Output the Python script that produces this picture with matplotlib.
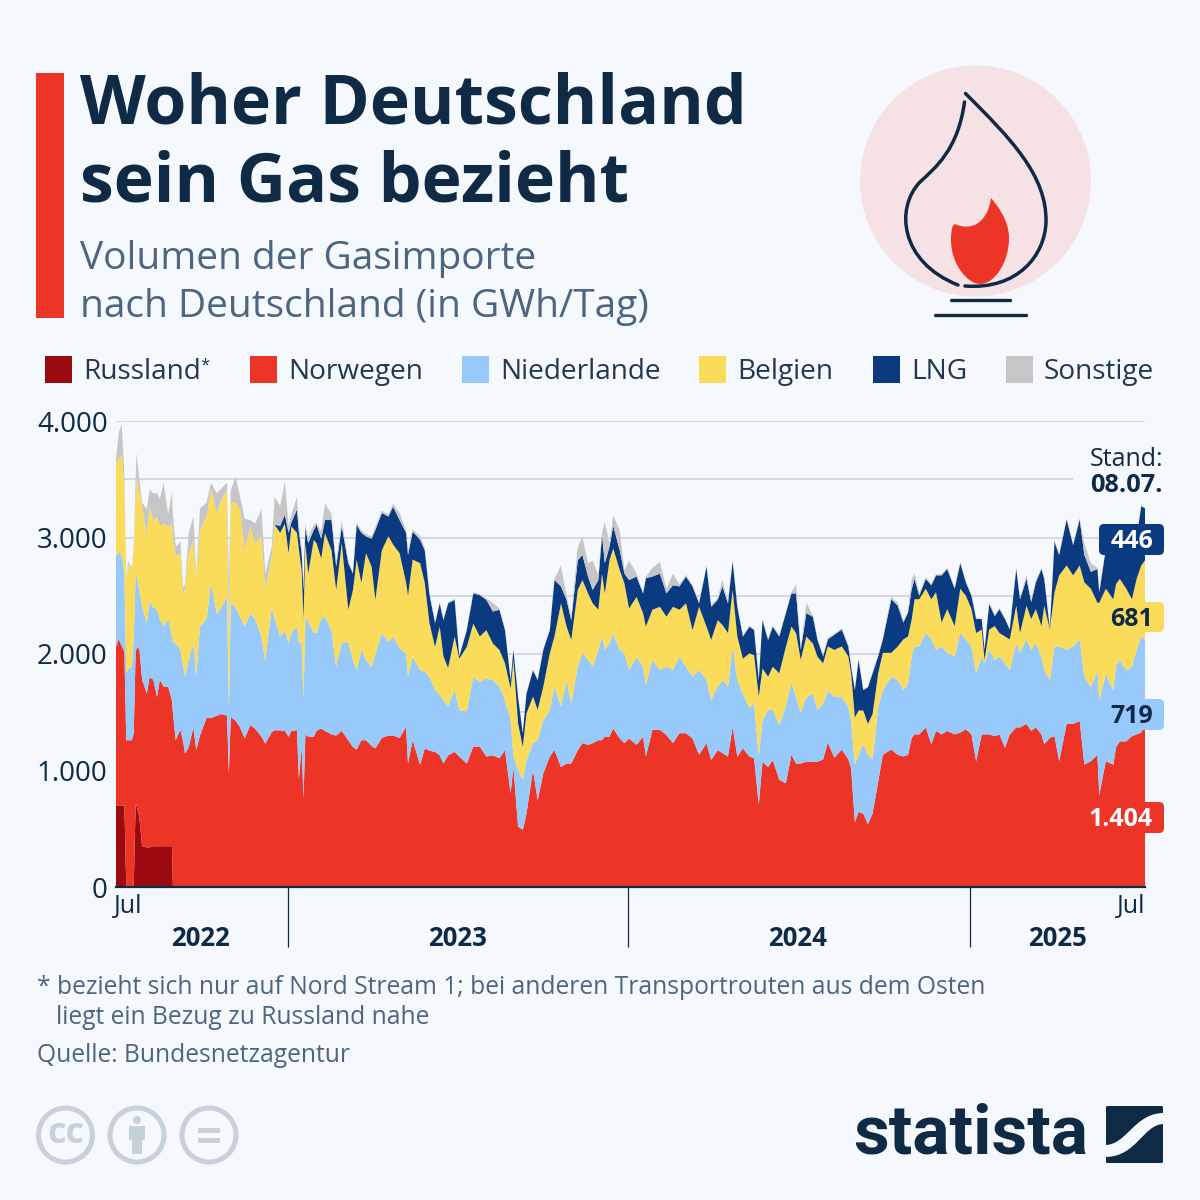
import numpy as np
import matplotlib
matplotlib.use("Agg")
import matplotlib.pyplot as plt
from matplotlib.patches import Rectangle, Circle, FancyBboxPatch, PathPatch
from matplotlib.path import Path

# Tage seit dem 01.07.2022
tage = [
    0, 3, 6, 9, 11, 13, 17, 19, 21, 22,
    25, 28, 33, 36, 40, 44, 47, 51, 56, 60,
    61, 64, 69, 72, 74, 78, 83, 86, 90, 97,
    102, 108, 113, 119, 121, 123, 128, 133, 138, 144,
    149, 156, 160, 167, 170, 176, 181, 185, 188, 194,
    196, 199, 201, 203, 206, 212, 215, 220, 224, 231,
    236, 242, 249, 254, 258, 263, 268, 274, 278, 285,
    292, 297, 304, 311, 313, 318, 326, 331, 336, 342,
    347, 351, 356, 363, 368, 376, 383, 390, 397, 404,
    411, 417, 423, 426, 431, 436, 440, 447, 452, 458,
    465, 470, 477, 483, 488, 495, 500, 506, 511, 517,
    521, 524, 529, 533, 540, 545, 550, 558, 565, 568,
    575, 583, 590, 597, 604, 611, 618, 625, 633, 638,
    645, 650, 656, 661, 666, 672, 679, 684, 689, 693,
    699, 704, 711, 718, 724, 729, 734, 740, 747, 752,
    758, 763, 770, 778, 785, 788, 792, 796, 801, 806,
    811, 817, 822, 831, 838, 844, 849, 853, 856, 861,
    868, 874, 879, 885, 891, 899, 905, 911, 917, 922,
    928, 931, 936, 942, 947, 953, 958, 965, 969, 976,
    981, 986, 992, 995, 1001, 1006, 1011, 1019, 1026, 1033,
    1038, 1045, 1052, 1054, 1061, 1069, 1072, 1076, 1083, 1089,
    1094, 1099, 1103,
]

# Obergrenzen der gestapelten Flaechen (GWh/Tag)
russland = [
    700, 700, 700, 700, 0, 0, 0, 0, 700, 700,
    600, 350, 340, 340, 350, 350, 350, 350, 350, 350,
] + [0] * (len(tage) - 20)
bis_norwegen = [
    2060, 2130, 2070, 2020, 1260, 1260, 1260, 1320, 2000, 2050,
    2050, 1780, 1660, 1800, 1780, 1630, 1780, 1720, 1720, 1600,
    1500, 1260, 1350, 1250, 1145, 1200, 1370, 1175, 1300, 1450,
    1450, 1470, 1485, 1470, 975, 1460, 1430, 1370, 1275, 1390,
    1360, 1290, 1230, 1330, 1345, 1345, 1340, 1290, 1340, 1345,
    930, 1200, 760, 1310, 1290, 1290, 1340, 1360, 1340, 1310,
    1300, 1340, 1260, 1200, 1180, 1260, 1260, 1210, 1190, 1280,
    1300, 1300, 1280, 1375, 1060, 1260, 1050, 1190, 1170, 1160,
    1130, 1060, 1130, 1160, 1120, 1060, 1205, 1205, 1120, 1130,
    1105, 1175, 805, 1030, 520, 490, 630, 1005, 745, 975,
    1120, 1175, 1030, 1060, 1060, 1175, 1235, 1220, 1235, 1260,
    1260, 1290, 1290, 1360, 1275, 1235, 1275, 1220, 1290, 1120,
    1350, 1350, 1305, 1235, 1320, 1320, 1275, 1135, 1235, 1090,
    1175, 1150, 1120, 1375, 1120, 1190, 1120, 1105, 705, 1075,
    1030, 1090, 920, 890, 1135, 1060, 1060, 1075, 1075, 1075,
    1095, 1240, 1110, 1180, 1095, 1020, 555, 645, 630, 540,
    630, 905, 1135, 1180, 1135, 1120, 1135, 1280, 1310, 1310,
    1370, 1225, 1340, 1310, 1340, 1310, 1325, 1355, 1310, 1080,
    1310, 1310, 1310, 1295, 1310, 1195, 1310, 1370, 1370, 1400,
    1340, 1370, 1310, 1225, 1280, 1295, 1080, 1400, 1400, 1425,
    1050, 1080, 1135, 790, 1080, 1050, 1200, 1250, 1250, 1295,
    1310, 1325, 1404,
]
bis_niederlande = [
    2835, 2880, 2850, 2700, 1835, 1870, 1890, 2150, 2650, 2680,
    2550, 2405, 2265, 2450, 2400, 2380, 2300, 2235, 2300, 2150,
    2100, 2090, 2035, 1900, 1805, 1950, 2090, 1805, 2235, 2300,
    2610, 2350, 2400, 2490, 1530, 2430, 2405, 2320, 2235, 2350,
    2300, 2150, 1935, 2400, 2300, 2150, 2200, 2090, 2180, 2235,
    2100, 2090, 1600, 2320, 2280, 2180, 2180, 2300, 2320, 2200,
    1890, 2100, 2100, 1950, 1860, 2035, 1950, 1890, 2000, 2180,
    2100, 2150, 2050, 2005, 1805, 1975, 1860, 1850, 1800, 1690,
    1650, 1605, 1550, 1690, 1520, 1505, 1805, 1760, 1790, 1775,
    1720, 1605, 1430, 1120, 1005, 920, 1090, 1235, 1260, 1430,
    1520, 1720, 1550, 1775, 1575, 1890, 2005, 1950, 1890, 2035,
    2150, 2035, 2090, 2175, 2035, 2005, 1865, 1975, 1890, 1735,
    1950, 1865, 1890, 1865, 1975, 1890, 1805, 1865, 1775, 1605,
    1720, 1775, 1720, 2060, 1775, 1660, 1535, 1575, 1120, 1430,
    1520, 1520, 1390, 1550, 1750, 1630, 1490, 1630, 1660, 1520,
    1570, 1690, 1630, 1630, 1545, 1430, 1050, 1135, 1225, 1135,
    1095, 1545, 1690, 1805, 1775, 1690, 1745, 1980, 2065, 2065,
    2180, 2125, 2035, 2065, 2010, 1980, 2180, 2125, 2065, 1835,
    1980, 1920, 2035, 1950, 1980, 1920, 1860, 2095, 2010, 2125,
    2035, 2095, 1980, 1860, 1775, 2065, 2065, 2035, 2065, 2125,
    1805, 1715, 1860, 1600, 1830, 1690, 1900, 1950, 1860, 1890,
    2035, 2150, 2123,
]
bis_belgien = [
    3640, 3680, 3700, 3450, 2640, 2780, 2720, 2890, 3350, 3510,
    3400, 3270, 3010, 3270, 3150, 3180, 3100, 3120, 3090, 3120,
    3000, 2840, 2860, 2500, 2560, 2860, 2980, 2640, 3065, 3180,
    3410, 3210, 3320, 3410, 2100, 3300, 3295, 3240, 2890, 3095,
    2950, 3010, 2550, 2840, 3110, 3040, 3120, 2865, 3095, 3040,
    2900, 2720, 2300, 2950, 2690, 2980, 2950, 2820, 3035, 2890,
    2550, 2950, 2380, 2550, 2810, 2610, 2865, 2750, 2465, 2890,
    3010, 2940, 2865, 2610, 2500, 2810, 2780, 2610, 2265, 2060,
    2235, 1980, 1880, 2150, 1960, 2060, 2260, 2150, 2205, 2090,
    2035, 1920, 1705, 1950, 1405, 1205, 1490, 1635, 1520, 1720,
    2005, 2150, 2435, 2235, 2120, 2550, 2635, 2520, 2435, 2380,
    2690, 2520, 2805, 2905, 2720, 2605, 2390, 2490, 2350, 2235,
    2380, 2405, 2320, 2405, 2380, 2435, 2205, 2405, 2235, 2120,
    2290, 2250, 2180, 2550, 2150, 1960, 2005, 1990, 1635, 1875,
    1805, 1890, 1835, 2060, 2235, 2180, 1950, 2150, 2090, 1975,
    1920, 2065, 2035, 2065, 1980, 1835, 1455, 1515, 1515, 1400,
    1485, 1835, 2010, 2010, 2065, 2125, 2150, 2300, 2470, 2470,
    2560, 2470, 2530, 2270, 2385, 2240, 2560, 2500, 2385, 2180,
    2210, 1950, 2210, 2240, 2180, 2150, 2125, 2415, 2180, 2415,
    2300, 2385, 2240, 2415, 2210, 2530, 2675, 2760, 2675, 2760,
    2615, 2560, 2440, 2440, 2560, 2470, 2600, 2645, 2560, 2470,
    2645, 2760, 2804,
]
bis_lng = [
    3640, 3680, 3700, 3450, 2640, 2780, 2720, 2890, 3350, 3510,
    3400, 3270, 3010, 3270, 3150, 3180, 3100, 3120, 3090, 3120,
    3000, 2840, 2860, 2500, 2560, 2860, 2980, 2640, 3065, 3180,
    3410, 3210, 3320, 3410, 2100, 3300, 3295, 3240, 2890, 3095,
    2950, 3010, 2550, 2840, 3110, 3100, 3195, 3040, 3130, 3240,
    3050, 2865, 2550, 3080, 2950, 3065, 3110, 2990, 3150, 3150,
    2750, 3095, 2780, 2690, 3110, 3040, 3010, 2990, 3065, 3210,
    3180, 3265, 3150, 3040, 2850, 3050, 2980, 2890, 2510, 2265,
    2435, 2290, 2435, 2465, 1980, 2205, 2520, 2505, 2465, 2365,
    2380, 2205, 1775, 2035, 1630, 1320, 1660, 1860, 1775, 2035,
    2205, 2635, 2580, 2465, 2290, 2805, 2850, 2665, 2550, 2635,
    3020, 2780, 2920, 3100, 2890, 2690, 2635, 2665, 2520, 2650,
    2665, 2690, 2520, 2590, 2580, 2665, 2580, 2435, 2750, 2405,
    2465, 2580, 2435, 2795, 2405, 2150, 2235, 2205, 1775, 2290,
    2120, 2235, 2150, 2350, 2520, 2520, 2035, 2350, 2320, 2120,
    1980, 2125, 2165, 2210, 2065, 1890, 1690, 1950, 1690, 1715,
    1835, 1980, 2125, 2470, 2415, 2270, 2355, 2560, 2645, 2500,
    2645, 2590, 2675, 2675, 2730, 2560, 2780, 2615, 2500, 2300,
    2300, 2035, 2430, 2325, 2385, 2300, 2210, 2730, 2470, 2645,
    2445, 2615, 2730, 2645, 2215, 2965, 2850, 3155, 2935, 3155,
    2850, 2705, 2730, 2530, 2900, 2900, 3100, 2900, 2900, 2950,
    3000, 3270, 3250,
]
bis_sonstige = [
    3670, 3900, 3980, 3550, 2660, 2800, 2740, 2920, 3500, 3725,
    3500, 3300, 3240, 3410, 3380, 3380, 3330, 3470, 3200, 3395,
    3200, 2920, 2965, 2570, 2600, 3040, 3180, 2680, 3250, 3300,
    3470, 3380, 3420, 3470, 2600, 3400, 3525, 3350, 3160, 3150,
    3120, 3240, 2690, 2920, 3350, 3270, 3480, 3100, 3200, 3350,
    3100, 2900, 2600, 3120, 3000, 3110, 3130, 3050, 3295, 3200,
    2780, 3150, 2800, 2700, 3130, 3060, 3030, 3010, 3090, 3230,
    3200, 3290, 3210, 3060, 2880, 3070, 3010, 2910, 2520, 2270,
    2445, 2300, 2445, 2475, 1990, 2215, 2530, 2515, 2475, 2440,
    2390, 2215, 1785, 2045, 1635, 1325, 1665, 1870, 1785, 2045,
    2215, 2645, 2760, 2500, 2320, 2920, 3005, 2780, 2800, 2680,
    3040, 3135, 2950, 3190, 3060, 2720, 2800, 2690, 2530, 2660,
    2740, 2790, 2560, 2690, 2600, 2680, 2590, 2450, 2760, 2420,
    2480, 2640, 2450, 2800, 2410, 2160, 2240, 2215, 1780, 2300,
    2130, 2245, 2160, 2360, 2530, 2600, 2045, 2440, 2330, 2125,
    1990, 2140, 2175, 2220, 2075, 1900, 1695, 1960, 1700, 1720,
    1845, 1990, 2135, 2490, 2440, 2290, 2370, 2640, 2690, 2520,
    2660, 2600, 2685, 2685, 2740, 2570, 2790, 2625, 2510, 2310,
    2305, 2040, 2440, 2335, 2395, 2310, 2215, 2745, 2480, 2680,
    2460, 2630, 2740, 2655, 2220, 2975, 2860, 3165, 2945, 3165,
    2950, 2780, 2740, 2540, 2905, 2910, 3110, 2910, 2910, 2955,
    3010, 3280, 3250,
]

namen = ["Russland", "Norwegen", "Niederlande", "Belgien", "LNG", "Sonstige"]
farben = ["#9b0a0e", "#ec3527", "#97c9fa", "#fbdc5a", "#0a3a7f", "#c6c6c6"]
legende_x = [45, 250, 462, 699, 873, 1006]
y_ticks = [0, 1000, 2000, 3000, 4000]
y_labels = ["0", "1.000", "2.000", "3.000", "4.000"]
jahre = ["2022", "2023", "2024", "2025"]
jahr_x = [200, 457, 797, 1057]
jahreswechsel = [184, 549, 915]
end_labels = ["446", "681", "719", "1.404"]

BG = "#f5f8fc"
NAVY = "#0f2a45"
GREY = "#4c6580"
LEG = "#22384f"
RED = "#ec3527"
ICON = "#c6d2da"

plt.rcParams["font.family"] = ["Open Sans", "DejaVu Sans"]

fig = plt.figure(figsize=(12, 12), dpi=100, facecolor=BG)

# chart itself, placed by pixels
ax = fig.add_axes([116 / 1200, (1200 - 887) / 1200, 1029 / 1200, 466 / 1200])
ax.set_facecolor("none")
ax.set_xlim(0, 1103)
ax.set_ylim(0, 4000)

tage_arr = np.array(tage)
kanten = np.array([np.zeros(len(tage)), russland, bis_norwegen, bis_niederlande,
                   bis_belgien, bis_lng, bis_sonstige], dtype=float)
werte = np.diff(kanten, axis=0)
ax.stackplot(tage_arr, werte, colors=farben, linewidth=0, zorder=2)

for g in [500, 1000, 1500, 2000, 2500, 3000, 4000]:
    ax.axhline(g, color="#d4dae3", lw=1.4, zorder=1)
ax.hlines(3500, 0, 1026, color="#d4dae3", lw=1.4, zorder=1)

for s in ["top", "left", "right"]:
    ax.spines[s].set_visible(False)
ax.spines["bottom"].set_color(NAVY)
ax.spines["bottom"].set_linewidth(1.6)
ax.spines["bottom"].set_zorder(5)
ax.set_yticks(y_ticks, y_labels)
ax.tick_params(axis="y", length=0, pad=6, labelsize=20, labelcolor=NAVY)
ax.set_xticks(jahreswechsel, [""] * 3)
ax.tick_params(axis="x", length=43, width=0.9, color=NAVY)

# overlay in pixel coordinates for everything around the chart
ov = fig.add_axes([0, 0, 1, 1], zorder=10)
ov.set_xlim(0, 1200)
ov.set_ylim(1200, 0)
ov.axis("off")

ov.add_patch(Rectangle((36, 73), 28, 245, color=RED, lw=0))
ov.text(80, 105, "Woher Deutschland", fontsize=49, fontweight="bold", color=NAVY, va="center")
ov.text(80, 184, "sein Gas bezieht", fontsize=49, fontweight="bold", color=NAVY, va="center")
ov.text(80, 259, "Volumen der Gasimporte", fontsize=28, color=GREY, va="center")
ov.text(80, 307, "nach Deutschland (in GWh/Tag)", fontsize=28, color=GREY, va="center")

# flame icon
ov.add_patch(Circle((975.5, 181), 115.5, color="#f6e1e4", lw=0))
außen = Path(
    [(965.5, 93.5), (1010, 138), (1047, 175), (1046, 222), (1045, 255), (1018, 290), (965, 286)],
    [Path.MOVETO, Path.CURVE4, Path.CURVE4, Path.CURVE4, Path.CURVE4, Path.CURVE4, Path.CURVE4],
)
innen = Path(
    [(964.5, 102), (958, 150), (935, 168), (920, 182), (895, 208), (900, 262), (958, 285)],
    [Path.MOVETO, Path.CURVE4, Path.CURVE4, Path.CURVE4, Path.CURVE4, Path.CURVE4, Path.CURVE4],
)
for p in [außen, innen]:
    ov.add_patch(PathPatch(p, fc="none", ec=NAVY, lw=2.5, capstyle="round"))
flamme = Path(
    [(991, 198), (989, 215), (978, 232), (957, 225), (953, 222), (951, 228), (951, 240), (951, 265),
     (968, 284), (980, 284), (995, 284), (1009, 262), (1009, 238), (1009, 220), (997, 205), (991, 198)],
    [Path.MOVETO] + [Path.CURVE4] * 15,
)
ov.add_patch(PathPatch(flamme, fc=RED, ec="none"))
ov.plot([951, 1010], [300, 300], color=NAVY, lw=2.4, solid_capstyle="round")
ov.plot([935, 1026], [315, 315], color=NAVY, lw=2.4, solid_capstyle="round")

# legend
for name, farbe, lx in zip(namen, farben, legende_x):
    ov.add_patch(Rectangle((lx, 356), 27, 27, color=farbe, lw=0))
    ov.text(lx + 38, 372, name, fontsize=20.2, color=LEG, va="center")
ov.text(200, 366, "*", fontsize=12, color=LEG, va="center")

# x labels
ov.text(128.5, 907, "Jul", fontsize=18, color=NAVY, ha="center", va="center")
ov.text(1131, 907, "Jul", fontsize=18, color=NAVY, ha="center", va="center")
for jahr, jx in zip(jahre, jahr_x):
    ov.text(jx, 939, jahr, fontsize=18.5, fontweight="bold", color=NAVY, ha="center", va="center")

# end labels
boxen = [(1099, 524, 65, 31, "#0a3a7f", "white"), (1099, 602, 65, 30, "#fbdc5a", NAVY),
         (1099, 699, 65, 31, "#97c9fa", NAVY), (1085, 802, 79, 31, RED, "white")]
for txt, (bx, by, bw, bh, fc, tc) in zip(end_labels, boxen):
    ov.add_patch(FancyBboxPatch((bx + 4, by + 4), bw - 8, bh - 8, boxstyle="round,pad=4,rounding_size=5",
                                fc=fc, ec="none"))
    ov.text(1153, by + bh / 2 + 2, txt, fontsize=18, fontweight="bold", color=tc, ha="right", va="center")
ov.text(1163, 459, "Stand:", fontsize=18, color=NAVY, ha="right", va="center")
ov.text(1163, 486, "08.07.", fontsize=18.3, fontweight="bold", color=NAVY, ha="right", va="center")

# notes
ov.text(37, 987, "* bezieht sich nur auf Nord Stream 1; bei anderen Transportrouten aus dem Osten",
        fontsize=17.75, color=GREY, va="center")
ov.text(56, 1017, "liegt ein Bezug zu Russland nahe", fontsize=17.75, color=GREY, va="center")
ov.text(37, 1055, "Quelle: Bundesnetzagentur", fontsize=17.75, color=GREY, va="center")

# cc icons
for cx in [65.5, 137, 209]:
    ov.add_patch(Circle((cx, 1135), 27, fc="none", ec=ICON, lw=3.6))
ov.text(65.5, 1134, "cc", fontsize=26, fontweight="bold", color=ICON, ha="center", va="center")
ov.add_patch(Circle((137, 1120), 4, color=ICON, lw=0))
ov.add_patch(Rectangle((129, 1126), 16, 14, color=ICON, lw=0))
ov.add_patch(Rectangle((132, 1140), 10, 14, color=ICON, lw=0))
ov.add_patch(Rectangle((198, 1128), 22, 5, color=ICON, lw=0))
ov.add_patch(Rectangle((198, 1138), 22, 5, color=ICON, lw=0))

# statista logo
ov.text(1088, 1135, "statista", fontsize=50, fontweight="bold", color=NAVY, ha="right", va="center",
        family="Roboto")
ov.add_patch(FancyBboxPatch((1106, 1106), 57, 57, boxstyle="round,pad=0,rounding_size=1.5", fc=NAVY, ec="none"))
band = Path(
    [(1105, 1145), (1127, 1145), (1134, 1113), (1164, 1113), (1164, 1124), (1143, 1124), (1137, 1157),
     (1105, 1157), (1105, 1145)],
    [Path.MOVETO, Path.CURVE4, Path.CURVE4, Path.CURVE4, Path.LINETO, Path.CURVE4, Path.CURVE4, Path.CURVE4,
     Path.CLOSEPOLY],
)
ov.add_patch(PathPatch(band, fc=BG, ec="none"))

fig.savefig("out.png", dpi=100, facecolor=BG)
